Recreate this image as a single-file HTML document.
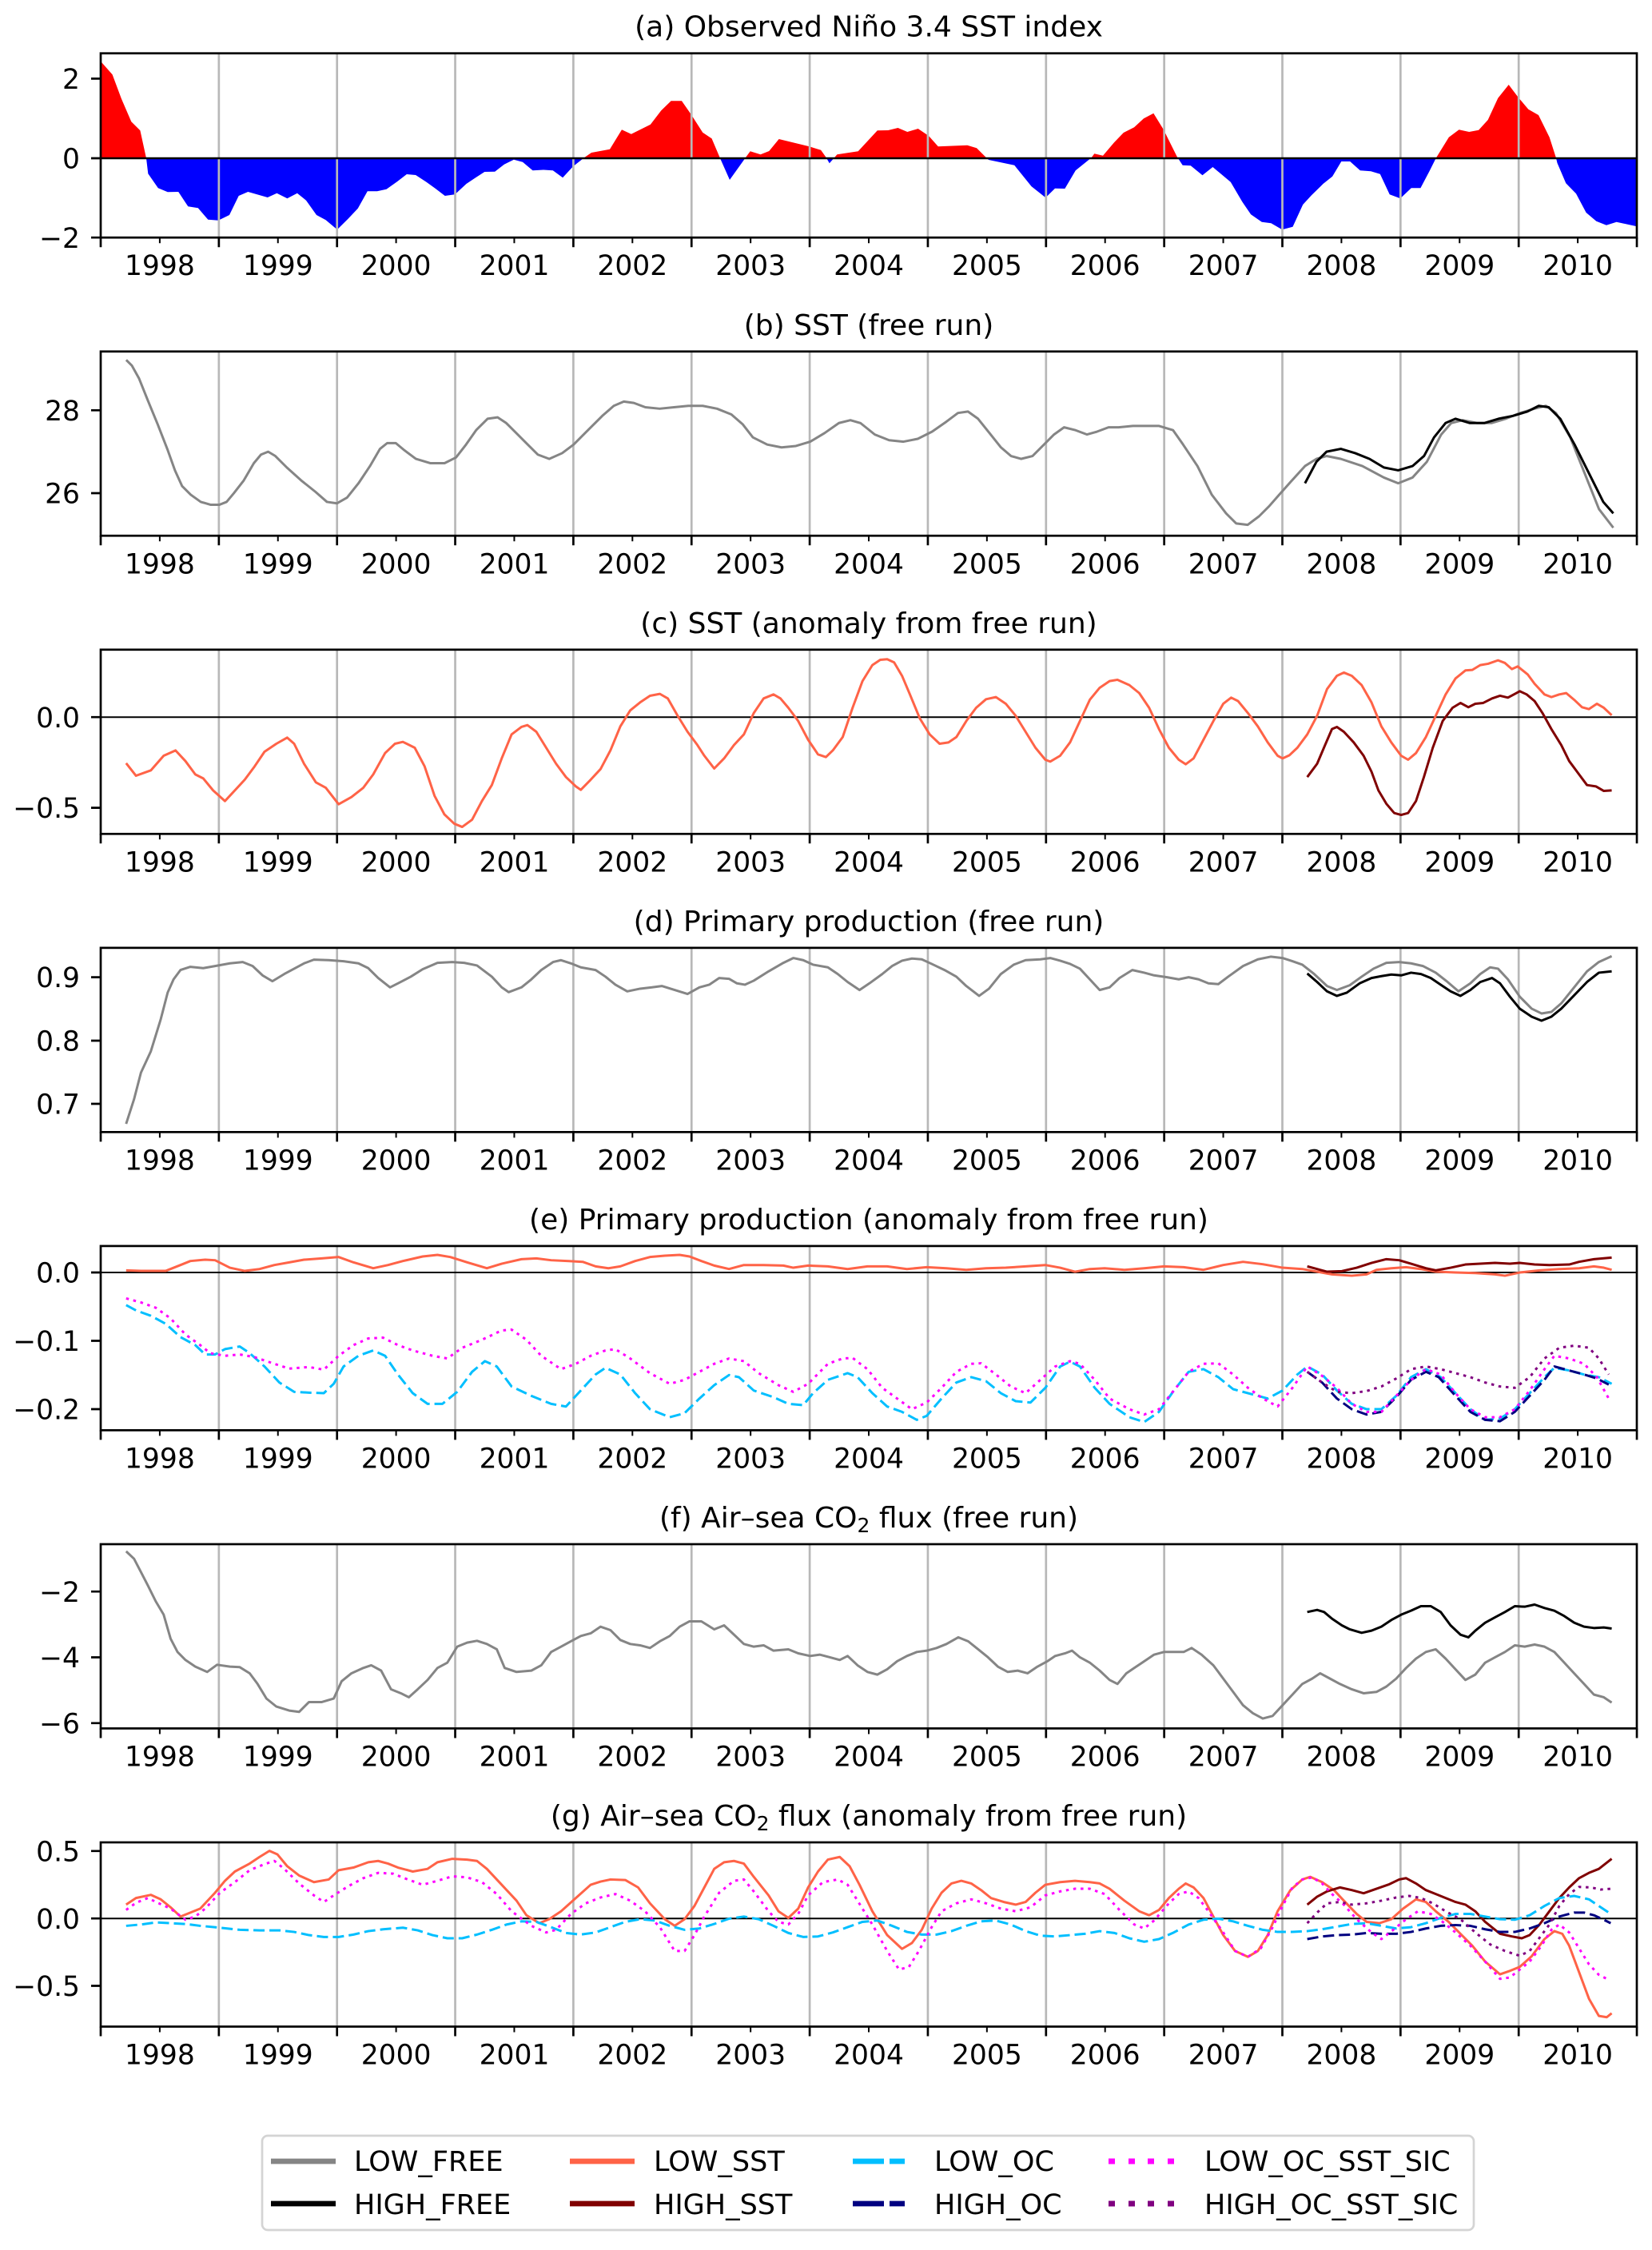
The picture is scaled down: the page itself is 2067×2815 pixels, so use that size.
<!DOCTYPE html>
<html>
<head>
<meta charset="utf-8">
<style>
html,body{margin:0;padding:0;background:#fff}
svg{display:block}
text{font-family:"DejaVu Sans","Liberation Sans",sans-serif;fill:#000}
.tk{font-size:34.5px}
.tl{font-size:36px}
.lg{font-size:35px}
.d{fill:none;stroke-width:3;vector-effect:non-scaling-stroke;stroke-linejoin:round;stroke-linecap:butt}
.grid{fill:none;stroke:#b8b8b8;stroke-width:2.7}
.sp{fill:none;stroke:#000;stroke-width:2.7}
.mj{fill:none;stroke:#000;stroke-width:2.7}
.mn{fill:none;stroke:#000;stroke-width:2}
.z{stroke:#000;stroke-width:2}
.gray{stroke:#858585}
.blk{stroke:#000}
.tom{stroke:#ff6347}
.mar{stroke:#800000}
.dsb{stroke:#00bfff;stroke-dasharray:14 6}
.nav{stroke:#000080;stroke-dasharray:14 6}
.mag{stroke:#ff00ff;stroke-dasharray:3.5 5.7}
.pur{stroke:#800080;stroke-dasharray:3.5 5.7}
</style>
</head>
<body>
<svg width="2067" height="2815" viewBox="0 0 2067 2815" xmlns="http://www.w3.org/2000/svg">
<rect x="0" y="0" width="2067" height="2815" fill="#fff"/>
<defs>
<clipPath id="ca"><rect x="126" y="66.7" width="1922" height="230.5"/></clipPath>
<clipPath id="cup"><rect x="126" y="60" width="1922" height="138"/></clipPath>
<clipPath id="cdn"><rect x="126" y="198" width="1922" height="100"/></clipPath>
</defs>

<!-- ============ PANEL A ============ -->
<text class="tl" x="1087" y="45.7" text-anchor="middle">(a) Observed Niño 3.4 SST index</text>
<g clip-path="url(#ca)">
<polygon clip-path="url(#cup)" fill="#ff0000" points="126,198 126,76.7 140.6,93.3 151.8,123.3 164.3,152.3 175.4,163.3 183,198 185.3,217.3 197.8,235.3 209.8,240.3 223.2,240 235.3,258.3 247.8,260.3 260.3,274.7 273.2,275.7 287,269 298.7,245 310.3,240 334.8,247 346.4,241.7 359.4,248.3 371.9,241.7 383,250.7 396,269 407.6,275.3 421.9,287.3 435.3,274 447.8,260.7 459.8,239.3 471.9,239.3 483.5,236.7 496.9,227.3 508.9,218 520.1,219 533.5,227.7 544.6,235.7 556.7,245 569.2,243.3 583.5,230 595.1,222.3 606.3,215 619.2,214.7 630.8,205.7 642.9,199.7 654,202.7 666.5,213.3 680,212.5 691.8,213.3 704.1,222.3 717,208.3 730.9,197.3 740,191 763,186.7 778,162.3 789.8,167.7 813.9,155.7 827.3,138.3 839.6,126.3 853,126.3 864.8,143.3 879.2,165.7 890.5,173.3 900.7,197.3 913,225 932.8,197.3 938.7,189.3 951.6,193.3 962.3,189 974.6,174 1012.6,183.3 1027.1,187.7 1033.5,196.7 1037.8,204.3 1047.4,193.3 1073.7,189.3 1097.8,163.3 1111.2,163 1123.5,160 1135.3,165 1148.7,161 1162,170 1173.8,183.3 1210.3,181.7 1222,185.3 1232.8,196 1237,200 1269.2,206.7 1290.6,233.3 1308.3,247.3 1320,235.7 1332.4,236 1345.8,213.3 1365.6,197.3 1369.3,192.3 1380,194.7 1394,178.3 1405.8,166 1419.1,159.3 1431,148.3 1443.3,141.7 1455.6,161.7 1472.7,196 1479.7,206.7 1489.8,207.3 1504.5,219.2 1517.4,209 1539.8,227.7 1554.2,252.3 1565.1,268.3 1578.8,277.7 1590.4,279.3 1604.2,287.3 1617.5,283.7 1630.2,256 1641,244.3 1655.5,230 1667.1,220.7 1678.3,202 1689.2,202 1701.8,213.3 1715.2,214.3 1726.8,217.7 1738.7,243.3 1752.1,248.3 1765.8,235.3 1777.4,235.3 1788.6,214 1796.6,198 1802,189.3 1812.8,171.7 1825.5,162.3 1838.2,165 1850.1,162.7 1861.7,150 1874.3,122.7 1887.7,106 1899.6,121.7 1912.3,136.7 1925,144 1938.7,171.7 1946.7,196.7 1948.5,204 1959.3,229.3 1972,242.3 1984.6,266 1997.3,276.7 2009.9,281.7 2022.6,277.7 2048,283.3 2048,198"/>
<polygon clip-path="url(#cdn)" fill="#0000ff" points="126,198 126,76.7 140.6,93.3 151.8,123.3 164.3,152.3 175.4,163.3 183,198 185.3,217.3 197.8,235.3 209.8,240.3 223.2,240 235.3,258.3 247.8,260.3 260.3,274.7 273.2,275.7 287,269 298.7,245 310.3,240 334.8,247 346.4,241.7 359.4,248.3 371.9,241.7 383,250.7 396,269 407.6,275.3 421.9,287.3 435.3,274 447.8,260.7 459.8,239.3 471.9,239.3 483.5,236.7 496.9,227.3 508.9,218 520.1,219 533.5,227.7 544.6,235.7 556.7,245 569.2,243.3 583.5,230 595.1,222.3 606.3,215 619.2,214.7 630.8,205.7 642.9,199.7 654,202.7 666.5,213.3 680,212.5 691.8,213.3 704.1,222.3 717,208.3 730.9,197.3 740,191 763,186.7 778,162.3 789.8,167.7 813.9,155.7 827.3,138.3 839.6,126.3 853,126.3 864.8,143.3 879.2,165.7 890.5,173.3 900.7,197.3 913,225 932.8,197.3 938.7,189.3 951.6,193.3 962.3,189 974.6,174 1012.6,183.3 1027.1,187.7 1033.5,196.7 1037.8,204.3 1047.4,193.3 1073.7,189.3 1097.8,163.3 1111.2,163 1123.5,160 1135.3,165 1148.7,161 1162,170 1173.8,183.3 1210.3,181.7 1222,185.3 1232.8,196 1237,200 1269.2,206.7 1290.6,233.3 1308.3,247.3 1320,235.7 1332.4,236 1345.8,213.3 1365.6,197.3 1369.3,192.3 1380,194.7 1394,178.3 1405.8,166 1419.1,159.3 1431,148.3 1443.3,141.7 1455.6,161.7 1472.7,196 1479.7,206.7 1489.8,207.3 1504.5,219.2 1517.4,209 1539.8,227.7 1554.2,252.3 1565.1,268.3 1578.8,277.7 1590.4,279.3 1604.2,287.3 1617.5,283.7 1630.2,256 1641,244.3 1655.5,230 1667.1,220.7 1678.3,202 1689.2,202 1701.8,213.3 1715.2,214.3 1726.8,217.7 1738.7,243.3 1752.1,248.3 1765.8,235.3 1777.4,235.3 1788.6,214 1796.6,198 1802,189.3 1812.8,171.7 1825.5,162.3 1838.2,165 1850.1,162.7 1861.7,150 1874.3,122.7 1887.7,106 1899.6,121.7 1912.3,136.7 1925,144 1938.7,171.7 1946.7,196.7 1948.5,204 1959.3,229.3 1972,242.3 1984.6,266 1997.3,276.7 2009.9,281.7 2022.6,277.7 2048,283.3 2048,198"/>
</g>
<path class="grid" d="M273.85 66.7v230.5 m147.85 -230.5v230.5 m147.85 -230.5v230.5 m147.85 -230.5v230.5 m147.85 -230.5v230.5 m147.85 -230.5v230.5 m147.85 -230.5v230.5 m147.85 -230.5v230.5 m147.85 -230.5v230.5 m147.85 -230.5v230.5 m147.85 -230.5v230.5 m147.85 -230.5v230.5"/>
<line x1="126" y1="198" x2="2048" y2="198" stroke="#000" stroke-width="2.6"/>
<rect class="sp" x="126" y="66.7" width="1922" height="230.5"/>
<path class="mj" d="M126 297.2v12 m147.85 -12v12 m147.85 -12v12 m147.85 -12v12 m147.85 -12v12 m147.85 -12v12 m147.85 -12v12 m147.85 -12v12 m147.85 -12v12 m147.85 -12v12 m147.85 -12v12 m147.85 -12v12 m147.85 -12v12 m147.85 -12v12"/>
<path class="mn" d="M199.9 297.2v7 m147.85 -7v7 m147.85 -7v7 m147.85 -7v7 m147.85 -7v7 m147.85 -7v7 m147.85 -7v7 m147.85 -7v7 m147.85 -7v7 m147.85 -7v7 m147.85 -7v7 m147.85 -7v7 m147.85 -7v7"/>
<path class="mj" d="M114 98.4h12 M114 198h12 M114 297.2h12"/>
<text class="tk" x="100" y="111" text-anchor="end">2</text>
<text class="tk" x="100" y="210.6" text-anchor="end">0</text>
<text class="tk" x="100" y="309.8" text-anchor="end">−2</text>
<g class="tk" text-anchor="middle">
<text x="199.9" y="344.2">1998</text><text x="347.8" y="344.2">1999</text><text x="495.6" y="344.2">2000</text><text x="643.5" y="344.2">2001</text><text x="791.3" y="344.2">2002</text><text x="939.2" y="344.2">2003</text><text x="1087" y="344.2">2004</text><text x="1234.9" y="344.2">2005</text><text x="1382.7" y="344.2">2006</text><text x="1530.6" y="344.2">2007</text><text x="1678.4" y="344.2">2008</text><text x="1826.3" y="344.2">2009</text><text x="1974.1" y="344.2">2010</text>
</g>

<!-- ============ PANEL B ============ -->
<text class="tl" x="1087" y="418.8" text-anchor="middle">(b) SST (free run)</text>
<path class="grid" d="M273.85 439.75v230.5 m147.85 -230.5v230.5 m147.85 -230.5v230.5 m147.85 -230.5v230.5 m147.85 -230.5v230.5 m147.85 -230.5v230.5 m147.85 -230.5v230.5 m147.85 -230.5v230.5 m147.85 -230.5v230.5 m147.85 -230.5v230.5 m147.85 -230.5v230.5 m147.85 -230.5v230.5"/>
<g transform="matrix(1.7943 0 0 1.7941 0 0)">
<polyline class="d gray" points="88,251 92,255 97,264 103,279 110,296 117,314 122,328 127,339 133,345 140,350 147,352 153,352 158,350 163,344 170,335 177,323 182,317 187,315 192,318 200,326 210,335 220,343 228,350 235,351 242,347 250,337 258,325 265,313 270,309 276,309 282,314 290,320 300,323 310,323 318,319 325,310 332,300 340,292 347,291 353,295 360,302 368,310 375,317 383,320 392,316 400,310 410,300 420,290 428,283 435,280 442,281 450,284 460,285 470,284 480,283 490,283 500,285 510,289 518,296 525,305 535,310 545,312 555,311 565,308 575,302 585,295 593,293 600,295 610,303 620,307 630,308 640,306 650,301 660,294 668,288 675,287 682,292 690,302 698,312 705,318 712,320 720,318 728,310 735,303 742,298 750,300 758,303 765,301 773,298 780,298 790,297 800,297 808,297 818,300 825,310 835,325 845,345 855,358 862,365 870,366 878,360 885,353 892,345 900,336 910,325 918,320 925,318 935,320 950,325 965,333 975,337 985,333 995,322 1005,303 1012,295 1020,293 1030,295 1040,295 1050,292 1060,288 1070,285 1078,283 1085,288 1095,305 1105,330 1115,355 1125,368"/>
<polyline class="d blk" points="910,337 918,322 925,315 935,313 945,316 955,320 965,326 975,328 985,325 993,318 1000,305 1008,295 1015,292 1025,295 1035,295 1045,292 1055,290 1065,287 1073,283 1080,284 1088,292 1098,310 1108,330 1118,350 1125,358"/>
</g>
<rect class="sp" x="126" y="439.75" width="1922" height="230.5"/>
<path class="mj" d="M126 670.25v12 m147.85 -12v12 m147.85 -12v12 m147.85 -12v12 m147.85 -12v12 m147.85 -12v12 m147.85 -12v12 m147.85 -12v12 m147.85 -12v12 m147.85 -12v12 m147.85 -12v12 m147.85 -12v12 m147.85 -12v12 m147.85 -12v12"/>
<path class="mn" d="M199.9 670.25v7 m147.85 -7v7 m147.85 -7v7 m147.85 -7v7 m147.85 -7v7 m147.85 -7v7 m147.85 -7v7 m147.85 -7v7 m147.85 -7v7 m147.85 -7v7 m147.85 -7v7 m147.85 -7v7 m147.85 -7v7"/>
<path class="mj" d="M114 513.3h12 M114 617h12"/>
<text class="tk" x="100" y="525.9" text-anchor="end">28</text>
<text class="tk" x="100" y="629.6" text-anchor="end">26</text>
<g class="tk" text-anchor="middle">
<text x="199.9" y="717.3">1998</text><text x="347.8" y="717.3">1999</text><text x="495.6" y="717.3">2000</text><text x="643.5" y="717.3">2001</text><text x="791.3" y="717.3">2002</text><text x="939.2" y="717.3">2003</text><text x="1087" y="717.3">2004</text><text x="1234.9" y="717.3">2005</text><text x="1382.7" y="717.3">2006</text><text x="1530.6" y="717.3">2007</text><text x="1678.4" y="717.3">2008</text><text x="1826.3" y="717.3">2009</text><text x="1974.1" y="717.3">2010</text>
</g>

<!-- ============ PANEL C ============ -->
<text class="tl" x="1087" y="791.8" text-anchor="middle">(c) SST (anomaly from free run)</text>
<path class="grid" d="M273.85 812.8v230.5 m147.85 -230.5v230.5 m147.85 -230.5v230.5 m147.85 -230.5v230.5 m147.85 -230.5v230.5 m147.85 -230.5v230.5 m147.85 -230.5v230.5 m147.85 -230.5v230.5 m147.85 -230.5v230.5 m147.85 -230.5v230.5 m147.85 -230.5v230.5 m147.85 -230.5v230.5"/>
<line class="z" x1="126" y1="897.2" x2="2048" y2="897.2"/>
<g transform="matrix(1.2367 0 0 0.3335 120.7 802.1)">
<polyline class="d tom" points="30,458 40,505 55,485 68,430 80,410 90,450 100,500 108,515 118,560 130,600 140,560 150,520 160,470 170,415 182,385 193,362 200,385 210,460 222,530 232,550 245,612 258,585 270,550 280,500 292,420 302,385 310,378 322,400 332,470 342,580 352,650 362,685 370,697 380,670 390,600 400,540 410,440 420,350 430,322 436,315 445,340 455,400 465,460 475,510 485,545 490,558 500,520 510,480 520,410 530,320 540,260 550,230 560,205 570,198 578,215 588,280 598,340 608,390 615,430 625,478 635,440 645,390 655,350 665,270 675,215 685,200 692,215 700,250 710,300 720,370 730,425 738,435 745,410 755,360 765,250 775,150 785,90 793,70 800,68 807,80 815,130 823,200 833,290 843,350 853,385 862,380 870,360 880,300 890,250 900,218 910,210 920,235 930,280 940,340 950,400 960,445 965,452 975,430 985,380 995,300 1005,220 1015,175 1025,150 1033,145 1045,165 1055,195 1065,250 1075,330 1085,400 1095,445 1102,462 1110,440 1120,370 1130,300 1140,235 1148,212 1155,225 1165,270 1175,320 1185,380 1195,430 1200,440 1207,428 1215,400 1225,350 1235,280 1245,180 1255,130 1262,118 1270,130 1280,165 1290,230 1300,320 1310,380 1320,430 1327,445 1335,420 1345,360 1355,280 1365,200 1375,140 1385,110 1392,108 1400,90 1408,85 1418,72 1425,82 1432,105 1438,95 1448,125 1455,160 1465,200 1472,210 1480,200 1487,195 1495,220 1503,248 1510,255 1518,235 1525,250 1533,278"/>
<polyline class="d mar" points="1225,510 1235,460 1243,390 1250,330 1255,322 1262,340 1272,380 1282,430 1290,490 1297,560 1305,610 1313,645 1320,652 1327,645 1335,600 1343,510 1352,400 1362,300 1372,250 1380,232 1388,248 1395,235 1403,232 1412,215 1420,205 1428,212 1435,198 1440,188 1447,200 1455,225 1463,270 1472,330 1482,390 1490,450 1500,500 1508,540 1517,545 1525,562 1533,560"/>
</g>
<rect class="sp" x="126" y="812.8" width="1922" height="230.5"/>
<path class="mj" d="M126 1043.3v12 m147.85 -12v12 m147.85 -12v12 m147.85 -12v12 m147.85 -12v12 m147.85 -12v12 m147.85 -12v12 m147.85 -12v12 m147.85 -12v12 m147.85 -12v12 m147.85 -12v12 m147.85 -12v12 m147.85 -12v12 m147.85 -12v12"/>
<path class="mn" d="M199.9 1043.3v7 m147.85 -7v7 m147.85 -7v7 m147.85 -7v7 m147.85 -7v7 m147.85 -7v7 m147.85 -7v7 m147.85 -7v7 m147.85 -7v7 m147.85 -7v7 m147.85 -7v7 m147.85 -7v7 m147.85 -7v7"/>
<path class="mj" d="M114 897.2h12 M114 1010.6h12"/>
<text class="tk" x="100" y="909.8" text-anchor="end">0.0</text>
<text class="tk" x="100" y="1023.2" text-anchor="end">−0.5</text>
<g class="tk" text-anchor="middle">
<text x="199.9" y="1090.3">1998</text><text x="347.8" y="1090.3">1999</text><text x="495.6" y="1090.3">2000</text><text x="643.5" y="1090.3">2001</text><text x="791.3" y="1090.3">2002</text><text x="939.2" y="1090.3">2003</text><text x="1087" y="1090.3">2004</text><text x="1234.9" y="1090.3">2005</text><text x="1382.7" y="1090.3">2006</text><text x="1530.6" y="1090.3">2007</text><text x="1678.4" y="1090.3">2008</text><text x="1826.3" y="1090.3">2009</text><text x="1974.1" y="1090.3">2010</text>
</g>

<!-- ============ PANEL D ============ -->
<text class="tl" x="1087" y="1164.9" text-anchor="middle">(d) Primary production (free run)</text>
<path class="grid" d="M273.85 1185.85v230.5 m147.85 -230.5v230.5 m147.85 -230.5v230.5 m147.85 -230.5v230.5 m147.85 -230.5v230.5 m147.85 -230.5v230.5 m147.85 -230.5v230.5 m147.85 -230.5v230.5 m147.85 -230.5v230.5 m147.85 -230.5v230.5 m147.85 -230.5v230.5 m147.85 -230.5v230.5"/>
<g transform="matrix(1.2367 0 0 0.3335 120.7 1175.25)">
<polyline class="d gray" points="30,692 38,600 45,500 55,420 65,300 72,200 78,150 85,115 95,103 108,108 120,100 135,90 148,85 158,100 168,135 178,157 190,130 200,110 210,90 220,76 235,78 250,82 265,90 275,108 285,145 297,180 305,165 318,140 330,112 345,88 360,85 372,88 385,98 400,140 410,180 417,198 430,180 440,150 450,115 462,85 470,78 480,90 490,105 505,115 515,140 525,170 537,195 550,185 562,180 572,175 585,190 598,205 610,180 620,170 630,145 640,148 648,165 656,170 665,155 680,120 695,88 705,70 715,78 725,95 740,105 750,130 760,160 772,190 782,165 795,130 805,100 815,80 825,72 835,75 845,92 858,115 870,140 880,175 893,212 903,185 915,130 928,95 940,78 955,75 965,70 975,80 985,92 995,110 1005,150 1015,190 1025,180 1035,145 1048,115 1060,125 1070,135 1083,142 1095,150 1105,142 1115,150 1125,165 1135,168 1145,140 1160,100 1175,75 1188,65 1200,70 1210,82 1220,95 1232,130 1245,175 1255,190 1268,172 1280,140 1292,110 1305,88 1318,85 1330,90 1342,100 1355,125 1367,160 1378,195 1390,165 1400,130 1410,105 1418,110 1428,150 1440,215 1452,260 1462,278 1472,272 1482,240 1495,180 1508,120 1520,85 1533,63"/>
<polyline class="d blk" points="1225,128 1235,160 1245,195 1255,212 1265,200 1278,165 1290,145 1300,138 1310,132 1320,135 1330,125 1340,130 1350,145 1360,170 1370,195 1380,212 1390,190 1400,160 1412,145 1420,165 1430,215 1440,260 1452,290 1462,305 1472,290 1482,260 1495,210 1508,160 1520,125 1533,120"/>
</g>
<rect class="sp" x="126" y="1185.85" width="1922" height="230.5"/>
<path class="mj" d="M126 1416.35v12 m147.85 -12v12 m147.85 -12v12 m147.85 -12v12 m147.85 -12v12 m147.85 -12v12 m147.85 -12v12 m147.85 -12v12 m147.85 -12v12 m147.85 -12v12 m147.85 -12v12 m147.85 -12v12 m147.85 -12v12 m147.85 -12v12"/>
<path class="mn" d="M199.9 1416.35v7 m147.85 -7v7 m147.85 -7v7 m147.85 -7v7 m147.85 -7v7 m147.85 -7v7 m147.85 -7v7 m147.85 -7v7 m147.85 -7v7 m147.85 -7v7 m147.85 -7v7 m147.85 -7v7 m147.85 -7v7"/>
<path class="mj" d="M114 1222.6h12 M114 1302h12 M114 1381h12"/>
<text class="tk" x="100" y="1235.2" text-anchor="end">0.9</text>
<text class="tk" x="100" y="1314.6" text-anchor="end">0.8</text>
<text class="tk" x="100" y="1393.6" text-anchor="end">0.7</text>
<g class="tk" text-anchor="middle">
<text x="199.9" y="1463.4">1998</text><text x="347.8" y="1463.4">1999</text><text x="495.6" y="1463.4">2000</text><text x="643.5" y="1463.4">2001</text><text x="791.3" y="1463.4">2002</text><text x="939.2" y="1463.4">2003</text><text x="1087" y="1463.4">2004</text><text x="1234.9" y="1463.4">2005</text><text x="1382.7" y="1463.4">2006</text><text x="1530.6" y="1463.4">2007</text><text x="1678.4" y="1463.4">2008</text><text x="1826.3" y="1463.4">2009</text><text x="1974.1" y="1463.4">2010</text>
</g>

<!-- ============ PANEL E ============ -->
<text class="tl" x="1087" y="1537.9" text-anchor="middle">(e) Primary production (anomaly from free run)</text>
<path class="grid" d="M273.85 1558.9v230.5 m147.85 -230.5v230.5 m147.85 -230.5v230.5 m147.85 -230.5v230.5 m147.85 -230.5v230.5 m147.85 -230.5v230.5 m147.85 -230.5v230.5 m147.85 -230.5v230.5 m147.85 -230.5v230.5 m147.85 -230.5v230.5 m147.85 -230.5v230.5 m147.85 -230.5v230.5"/>
<line class="z" x1="126" y1="1592" x2="2048" y2="1592"/>
<g transform="matrix(1.2367 0 0 0.334 120.7 1549.3)">
<polyline class="d tom" points="30,120 45,122 70,122 85,100 95,85 110,80 120,82 135,110 150,122 165,115 180,100 195,90 210,80 228,75 245,70 260,90 280,112 295,100 310,85 330,68 345,62 358,70 375,90 395,112 410,95 430,78 445,75 460,82 478,85 492,88 505,105 518,112 530,105 545,85 560,70 575,65 590,62 600,68 612,85 625,102 640,115 655,100 675,100 695,102 705,110 720,102 740,105 760,115 780,105 800,105 820,115 840,108 860,112 880,118 900,112 920,110 940,105 960,100 975,110 990,125 1005,115 1020,112 1040,118 1060,112 1080,105 1100,108 1120,118 1140,100 1160,88 1180,97 1200,110 1220,115 1235,125 1250,135 1270,140 1285,135 1295,118 1310,112 1325,108 1340,115 1355,125 1375,128 1395,130 1415,135 1425,140 1440,128 1460,120 1480,115 1500,112 1515,105 1525,110 1533,118"/>
<polyline class="d mar" points="1225,105 1235,115 1245,125 1260,123 1275,110 1290,92 1305,78 1318,82 1330,95 1345,112 1355,120 1370,110 1385,98 1400,95 1415,92 1430,95 1440,92 1455,98 1470,100 1490,98 1500,88 1515,78 1533,72"/>
<polyline class="d dsb" points="30,250 40,270 55,290 70,320 85,370 100,400 110,435 120,435 130,415 145,405 155,430 170,480 185,540 200,575 215,578 230,580 240,545 250,480 265,440 280,420 292,440 305,510 320,580 335,620 350,620 365,575 380,500 393,460 405,480 420,555 440,590 460,620 475,630 490,570 505,510 515,485 530,510 545,580 560,640 580,670 595,655 610,600 625,550 640,512 650,520 665,570 685,595 700,620 715,625 725,580 740,530 760,505 770,520 785,580 800,630 815,650 830,680 840,665 855,600 870,540 885,520 900,535 915,580 930,610 945,615 960,560 975,480 985,462 995,480 1010,560 1025,620 1045,670 1060,688 1075,650 1090,570 1105,500 1120,490 1135,520 1150,565 1170,585 1185,600 1200,570 1215,510 1225,480 1240,510 1255,570 1270,620 1285,640 1300,640 1315,590 1330,520 1345,490 1360,520 1375,580 1390,640 1405,680 1420,675 1435,640 1450,580 1465,520 1475,485 1490,495 1505,510 1520,520 1533,545"/>
<polyline class="d nav" points="1225,500 1240,540 1255,600 1270,640 1285,660 1300,650 1315,595 1330,530 1345,500 1358,520 1375,590 1390,650 1405,680 1420,685 1435,650 1450,590 1465,530 1475,480 1490,495 1505,510 1518,525 1530,548"/>
<polyline class="d mag" points="30,225 45,240 60,260 75,300 90,360 105,400 115,430 130,440 145,435 160,445 180,470 195,488 215,482 230,492 245,440 260,400 275,375 290,372 305,400 320,420 340,440 355,450 370,410 390,380 410,345 420,342 435,380 450,440 470,490 485,470 500,440 515,420 525,415 540,450 560,505 580,545 595,530 610,500 625,470 640,450 655,460 670,505 690,550 705,575 720,545 740,470 755,450 765,448 780,490 795,560 810,600 825,640 840,615 855,560 870,500 885,470 895,468 910,510 925,555 940,580 955,530 970,480 985,460 995,470 1010,530 1025,600 1045,640 1060,660 1075,640 1090,570 1105,500 1120,470 1135,468 1150,510 1165,560 1180,600 1195,630 1210,560 1225,480 1240,515 1255,560 1270,620 1285,650 1300,650 1315,590 1330,530 1345,490 1360,510 1375,580 1390,640 1405,670 1420,670 1435,640 1450,570 1465,490 1475,440 1490,450 1505,470 1518,520 1530,600"/>
<polyline class="d pur" points="1225,500 1240,540 1255,575 1270,580 1285,572 1300,555 1315,525 1330,490 1345,480 1360,490 1375,505 1390,520 1405,540 1420,555 1435,560 1450,520 1465,450 1480,410 1495,402 1510,410 1520,450 1530,510"/>
</g>
<rect class="sp" x="126" y="1558.9" width="1922" height="230.5"/>
<path class="mj" d="M126 1789.4v12 m147.85 -12v12 m147.85 -12v12 m147.85 -12v12 m147.85 -12v12 m147.85 -12v12 m147.85 -12v12 m147.85 -12v12 m147.85 -12v12 m147.85 -12v12 m147.85 -12v12 m147.85 -12v12 m147.85 -12v12 m147.85 -12v12"/>
<path class="mn" d="M199.9 1789.4v7 m147.85 -7v7 m147.85 -7v7 m147.85 -7v7 m147.85 -7v7 m147.85 -7v7 m147.85 -7v7 m147.85 -7v7 m147.85 -7v7 m147.85 -7v7 m147.85 -7v7 m147.85 -7v7 m147.85 -7v7"/>
<path class="mj" d="M114 1592h12 M114 1677.5h12 M114 1763h12"/>
<text class="tk" x="100" y="1604.6" text-anchor="end">0.0</text>
<text class="tk" x="100" y="1690.1" text-anchor="end">−0.1</text>
<text class="tk" x="100" y="1775.6" text-anchor="end">−0.2</text>
<g class="tk" text-anchor="middle">
<text x="199.9" y="1836.4">1998</text><text x="347.8" y="1836.4">1999</text><text x="495.6" y="1836.4">2000</text><text x="643.5" y="1836.4">2001</text><text x="791.3" y="1836.4">2002</text><text x="939.2" y="1836.4">2003</text><text x="1087" y="1836.4">2004</text><text x="1234.9" y="1836.4">2005</text><text x="1382.7" y="1836.4">2006</text><text x="1530.6" y="1836.4">2007</text><text x="1678.4" y="1836.4">2008</text><text x="1826.3" y="1836.4">2009</text><text x="1974.1" y="1836.4">2010</text>
</g>

<!-- ============ PANEL F ============ -->
<text class="tl" x="1087" y="1911" text-anchor="middle">(f) Air–sea CO<tspan font-size="25" dy="6">2</tspan><tspan dy="-6">  flux (free run)</tspan></text>
<path class="grid" d="M273.85 1931.95v230.5 m147.85 -230.5v230.5 m147.85 -230.5v230.5 m147.85 -230.5v230.5 m147.85 -230.5v230.5 m147.85 -230.5v230.5 m147.85 -230.5v230.5 m147.85 -230.5v230.5 m147.85 -230.5v230.5 m147.85 -230.5v230.5 m147.85 -230.5v230.5 m147.85 -230.5v230.5"/>
<g transform="matrix(1.2367 0 0 0.3332 120.7 1920.2)">
<polyline class="d gray" points="30,62 38,90 45,140 52,190 60,250 68,300 75,390 82,440 90,470 100,495 112,515 122,488 135,495 145,497 155,520 163,560 172,615 182,645 195,660 205,665 215,628 228,628 240,615 248,550 258,520 270,500 278,490 288,510 298,580 308,595 316,610 325,580 335,545 345,500 355,480 365,420 375,405 385,398 395,410 405,430 413,500 425,515 440,510 450,490 460,440 470,420 480,400 490,380 500,370 510,345 520,358 530,395 540,410 550,415 560,425 570,400 580,380 590,345 600,325 612,325 625,355 635,340 645,375 655,410 665,420 675,415 685,435 700,430 710,445 722,455 732,450 742,460 752,470 760,455 770,490 780,515 790,525 800,505 810,475 820,455 830,440 840,435 850,425 860,410 872,385 882,400 892,430 902,460 912,495 922,515 932,510 942,520 952,495 962,475 970,455 980,445 987,435 995,460 1005,480 1015,510 1025,545 1033,560 1042,520 1050,500 1060,475 1070,450 1080,440 1092,440 1100,440 1108,425 1118,450 1130,490 1140,540 1150,590 1160,640 1170,670 1180,690 1190,680 1200,640 1210,600 1220,560 1230,540 1238,520 1248,540 1258,560 1270,580 1282,595 1295,590 1305,570 1315,540 1325,500 1335,465 1345,440 1355,430 1365,465 1375,505 1385,545 1395,525 1405,480 1415,460 1425,440 1435,415 1445,420 1455,412 1465,420 1475,440 1485,480 1495,520 1505,560 1515,600 1525,610 1533,630"/>
<polyline class="d blk" points="1225,290 1235,282 1242,290 1250,315 1260,340 1268,355 1280,368 1290,360 1300,345 1310,320 1320,300 1330,285 1340,268 1350,268 1360,290 1370,340 1380,375 1388,385 1395,360 1405,330 1415,310 1425,290 1435,268 1445,270 1455,262 1465,275 1475,285 1485,305 1495,330 1505,345 1515,350 1525,348 1533,352"/>
</g>
<rect class="sp" x="126" y="1931.95" width="1922" height="230.5"/>
<path class="mj" d="M126 2162.45v12 m147.85 -12v12 m147.85 -12v12 m147.85 -12v12 m147.85 -12v12 m147.85 -12v12 m147.85 -12v12 m147.85 -12v12 m147.85 -12v12 m147.85 -12v12 m147.85 -12v12 m147.85 -12v12 m147.85 -12v12 m147.85 -12v12"/>
<path class="mn" d="M199.9 2162.45v7 m147.85 -7v7 m147.85 -7v7 m147.85 -7v7 m147.85 -7v7 m147.85 -7v7 m147.85 -7v7 m147.85 -7v7 m147.85 -7v7 m147.85 -7v7 m147.85 -7v7 m147.85 -7v7 m147.85 -7v7"/>
<path class="mj" d="M114 1991.2h12 M114 2073.5h12 M114 2155.8h12"/>
<text class="tk" x="100" y="2003.8" text-anchor="end">−2</text>
<text class="tk" x="100" y="2086.1" text-anchor="end">−4</text>
<text class="tk" x="100" y="2168.4" text-anchor="end">−6</text>
<g class="tk" text-anchor="middle">
<text x="199.9" y="2209.5">1998</text><text x="347.8" y="2209.5">1999</text><text x="495.6" y="2209.5">2000</text><text x="643.5" y="2209.5">2001</text><text x="791.3" y="2209.5">2002</text><text x="939.2" y="2209.5">2003</text><text x="1087" y="2209.5">2004</text><text x="1234.9" y="2209.5">2005</text><text x="1382.7" y="2209.5">2006</text><text x="1530.6" y="2209.5">2007</text><text x="1678.4" y="2209.5">2008</text><text x="1826.3" y="2209.5">2009</text><text x="1974.1" y="2209.5">2010</text>
</g>

<!-- ============ PANEL G ============ -->
<text class="tl" x="1087" y="2284" text-anchor="middle">(g) Air–sea CO<tspan font-size="25" dy="6">2</tspan><tspan dy="-6">  flux (anomaly from free run)</tspan></text>
<path class="grid" d="M273.85 2305v230.5 m147.85 -230.5v230.5 m147.85 -230.5v230.5 m147.85 -230.5v230.5 m147.85 -230.5v230.5 m147.85 -230.5v230.5 m147.85 -230.5v230.5 m147.85 -230.5v230.5 m147.85 -230.5v230.5 m147.85 -230.5v230.5 m147.85 -230.5v230.5 m147.85 -230.5v230.5"/>
<line class="z" x1="126" y1="2400.2" x2="2048" y2="2400.2"/>
<g transform="matrix(1.2367 0 0 0.3314 120.7 2295.1)">
<polyline class="d tom" points="30,265 40,240 55,228 65,245 75,275 85,310 95,295 105,280 120,220 130,175 140,140 155,110 165,85 175,62 183,75 193,120 205,155 220,180 235,170 245,135 260,125 275,105 285,100 295,110 305,125 320,140 335,130 345,105 360,92 375,95 385,100 395,130 410,190 425,250 435,305 448,335 458,320 470,290 485,240 500,190 510,178 520,170 535,172 548,200 560,260 575,320 585,345 595,320 605,270 615,200 625,130 635,105 645,100 655,110 665,160 680,230 690,290 700,315 710,280 720,200 730,140 740,95 752,85 762,120 772,190 785,290 800,380 815,432 825,410 835,360 845,280 855,220 865,185 875,175 885,185 895,210 905,240 918,255 930,265 940,255 950,220 960,190 975,180 990,175 1005,180 1015,185 1025,205 1040,250 1055,290 1065,305 1075,285 1085,240 1095,205 1102,185 1110,200 1120,240 1130,310 1140,380 1152,440 1165,462 1175,440 1185,380 1195,290 1208,210 1220,170 1228,160 1240,180 1252,210 1262,250 1275,300 1285,330 1298,335 1310,320 1322,280 1335,245 1345,255 1355,290 1368,330 1380,375 1392,420 1405,480 1420,528 1430,515 1440,500 1452,460 1465,395 1475,365 1483,375 1490,420 1500,520 1510,620 1520,685 1528,690 1533,675"/>
<polyline class="d mar" points="1225,265 1235,235 1245,215 1258,200 1270,210 1282,222 1295,205 1308,188 1318,170 1325,165 1335,185 1345,210 1355,225 1365,240 1375,255 1385,265 1395,290 1405,330 1420,375 1432,385 1442,392 1450,380 1460,340 1470,290 1480,240 1490,200 1500,165 1510,145 1520,130 1533,92"/>
<polyline class="d dsb" points="30,345 45,340 60,332 75,335 90,338 105,345 125,352 145,360 165,362 185,362 200,368 215,380 230,387 245,387 260,378 275,365 290,358 310,352 325,362 340,380 355,392 370,392 385,378 400,360 415,340 430,328 445,330 460,350 475,372 490,378 505,370 520,350 535,330 550,320 565,325 580,345 595,360 610,355 625,338 640,318 655,310 670,320 685,345 700,372 715,387 730,385 745,370 760,350 775,330 790,325 805,345 820,368 835,378 850,378 865,365 880,345 895,328 910,325 925,340 940,365 955,382 970,385 985,380 1000,375 1015,365 1030,372 1045,392 1060,405 1075,395 1090,370 1105,340 1120,322 1135,318 1150,328 1165,345 1180,360 1195,368 1210,368 1225,365 1240,358 1255,348 1270,338 1285,335 1300,345 1315,355 1330,350 1345,335 1360,315 1375,300 1390,300 1405,310 1420,320 1435,322 1450,305 1465,270 1480,240 1495,232 1510,245 1522,275 1532,300"/>
<polyline class="d nav" points="1225,395 1240,385 1255,380 1270,378 1285,372 1300,375 1315,375 1330,368 1345,355 1360,345 1375,342 1390,345 1405,358 1420,368 1435,368 1450,355 1465,335 1480,310 1495,295 1505,295 1515,305 1525,322 1532,335"/>
<polyline class="d mag" points="30,285 40,258 52,240 62,258 75,280 90,322 100,310 110,280 125,220 140,180 155,135 170,112 180,100 190,130 205,185 220,230 230,255 240,230 255,195 270,165 285,145 300,148 315,170 330,190 345,175 360,158 375,162 390,180 405,225 420,290 440,345 455,370 465,360 480,300 495,260 510,238 525,225 540,250 555,290 570,350 585,440 595,440 605,380 615,310 630,220 645,175 655,170 665,215 680,290 690,330 700,340 710,300 720,230 735,180 750,170 760,190 770,250 785,340 800,440 812,510 822,500 832,440 845,350 855,290 870,260 885,245 900,260 915,280 930,290 945,275 960,230 975,215 990,205 1005,205 1020,225 1035,285 1050,340 1060,355 1070,325 1085,260 1095,225 1105,215 1115,240 1125,290 1140,370 1152,440 1165,462 1178,430 1190,350 1200,270 1210,200 1220,170 1230,162 1240,185 1250,225 1262,265 1275,320 1290,370 1300,395 1312,360 1325,320 1337,290 1350,300 1362,330 1375,370 1390,420 1405,480 1420,545 1430,540 1440,510 1450,480 1462,420 1472,360 1480,340 1490,370 1500,430 1510,490 1520,530 1528,545"/>
<polyline class="d pur" points="1225,335 1235,295 1245,260 1258,255 1270,265 1285,260 1300,250 1315,238 1328,232 1340,240 1352,260 1365,290 1380,320 1395,370 1410,415 1425,440 1440,458 1450,440 1460,390 1470,340 1480,270 1490,225 1500,198 1512,200 1522,208 1532,205"/>
</g>
<rect class="sp" x="126" y="2305" width="1922" height="230.5"/>
<path class="mj" d="M126 2535.5v12 m147.85 -12v12 m147.85 -12v12 m147.85 -12v12 m147.85 -12v12 m147.85 -12v12 m147.85 -12v12 m147.85 -12v12 m147.85 -12v12 m147.85 -12v12 m147.85 -12v12 m147.85 -12v12 m147.85 -12v12 m147.85 -12v12"/>
<path class="mn" d="M199.9 2535.5v7 m147.85 -7v7 m147.85 -7v7 m147.85 -7v7 m147.85 -7v7 m147.85 -7v7 m147.85 -7v7 m147.85 -7v7 m147.85 -7v7 m147.85 -7v7 m147.85 -7v7 m147.85 -7v7 m147.85 -7v7"/>
<path class="mj" d="M114 2315.8h12 M114 2400.2h12 M114 2484.5h12"/>
<text class="tk" x="100" y="2328.4" text-anchor="end">0.5</text>
<text class="tk" x="100" y="2412.8" text-anchor="end">0.0</text>
<text class="tk" x="100" y="2497.1" text-anchor="end">−0.5</text>
<g class="tk" text-anchor="middle">
<text x="199.9" y="2582.5">1998</text><text x="347.8" y="2582.5">1999</text><text x="495.6" y="2582.5">2000</text><text x="643.5" y="2582.5">2001</text><text x="791.3" y="2582.5">2002</text><text x="939.2" y="2582.5">2003</text><text x="1087" y="2582.5">2004</text><text x="1234.9" y="2582.5">2005</text><text x="1382.7" y="2582.5">2006</text><text x="1530.6" y="2582.5">2007</text><text x="1678.4" y="2582.5">2008</text><text x="1826.3" y="2582.5">2009</text><text x="1974.1" y="2582.5">2010</text>
</g>

<!-- ============ LEGEND ============ -->
<rect x="328" y="2672" width="1516" height="118" rx="7" ry="7" fill="#fff" stroke="#d4d4d4" stroke-width="2.7"/>
<line x1="339" y1="2704" x2="420" y2="2704" stroke="#858585" stroke-width="6.8"/>
<line x1="339" y1="2757" x2="420" y2="2757" stroke="#000" stroke-width="6.8"/>
<line x1="713" y1="2704" x2="794" y2="2704" stroke="#ff6347" stroke-width="6.8"/>
<line x1="713" y1="2757" x2="794" y2="2757" stroke="#800000" stroke-width="6.8"/>
<path d="M1067 2704h39 M1113 2704h19" stroke="#00bfff" stroke-width="6.8"/>
<path d="M1067 2757h39 M1113 2757h19" stroke="#000080" stroke-width="6.8"/>
<path d="M1387 2704h8 M1412 2704h8 M1436 2704h8 M1461 2704h8" stroke="#ff00ff" stroke-width="7"/>
<path d="M1387 2757h8 M1412 2757h8 M1436 2757h8 M1461 2757h8" stroke="#800080" stroke-width="7"/>
<g class="lg">
<text x="443" y="2716">LOW_FREE</text>
<text x="443" y="2770">HIGH_FREE</text>
<text x="818" y="2716">LOW_SST</text>
<text x="818" y="2770">HIGH_SST</text>
<text x="1169" y="2716">LOW_OC</text>
<text x="1169" y="2770">HIGH_OC</text>
<text x="1507" y="2716">LOW_OC_SST_SIC</text>
<text x="1507" y="2770">HIGH_OC_SST_SIC</text>
</g>
</svg>
</body>
</html>
